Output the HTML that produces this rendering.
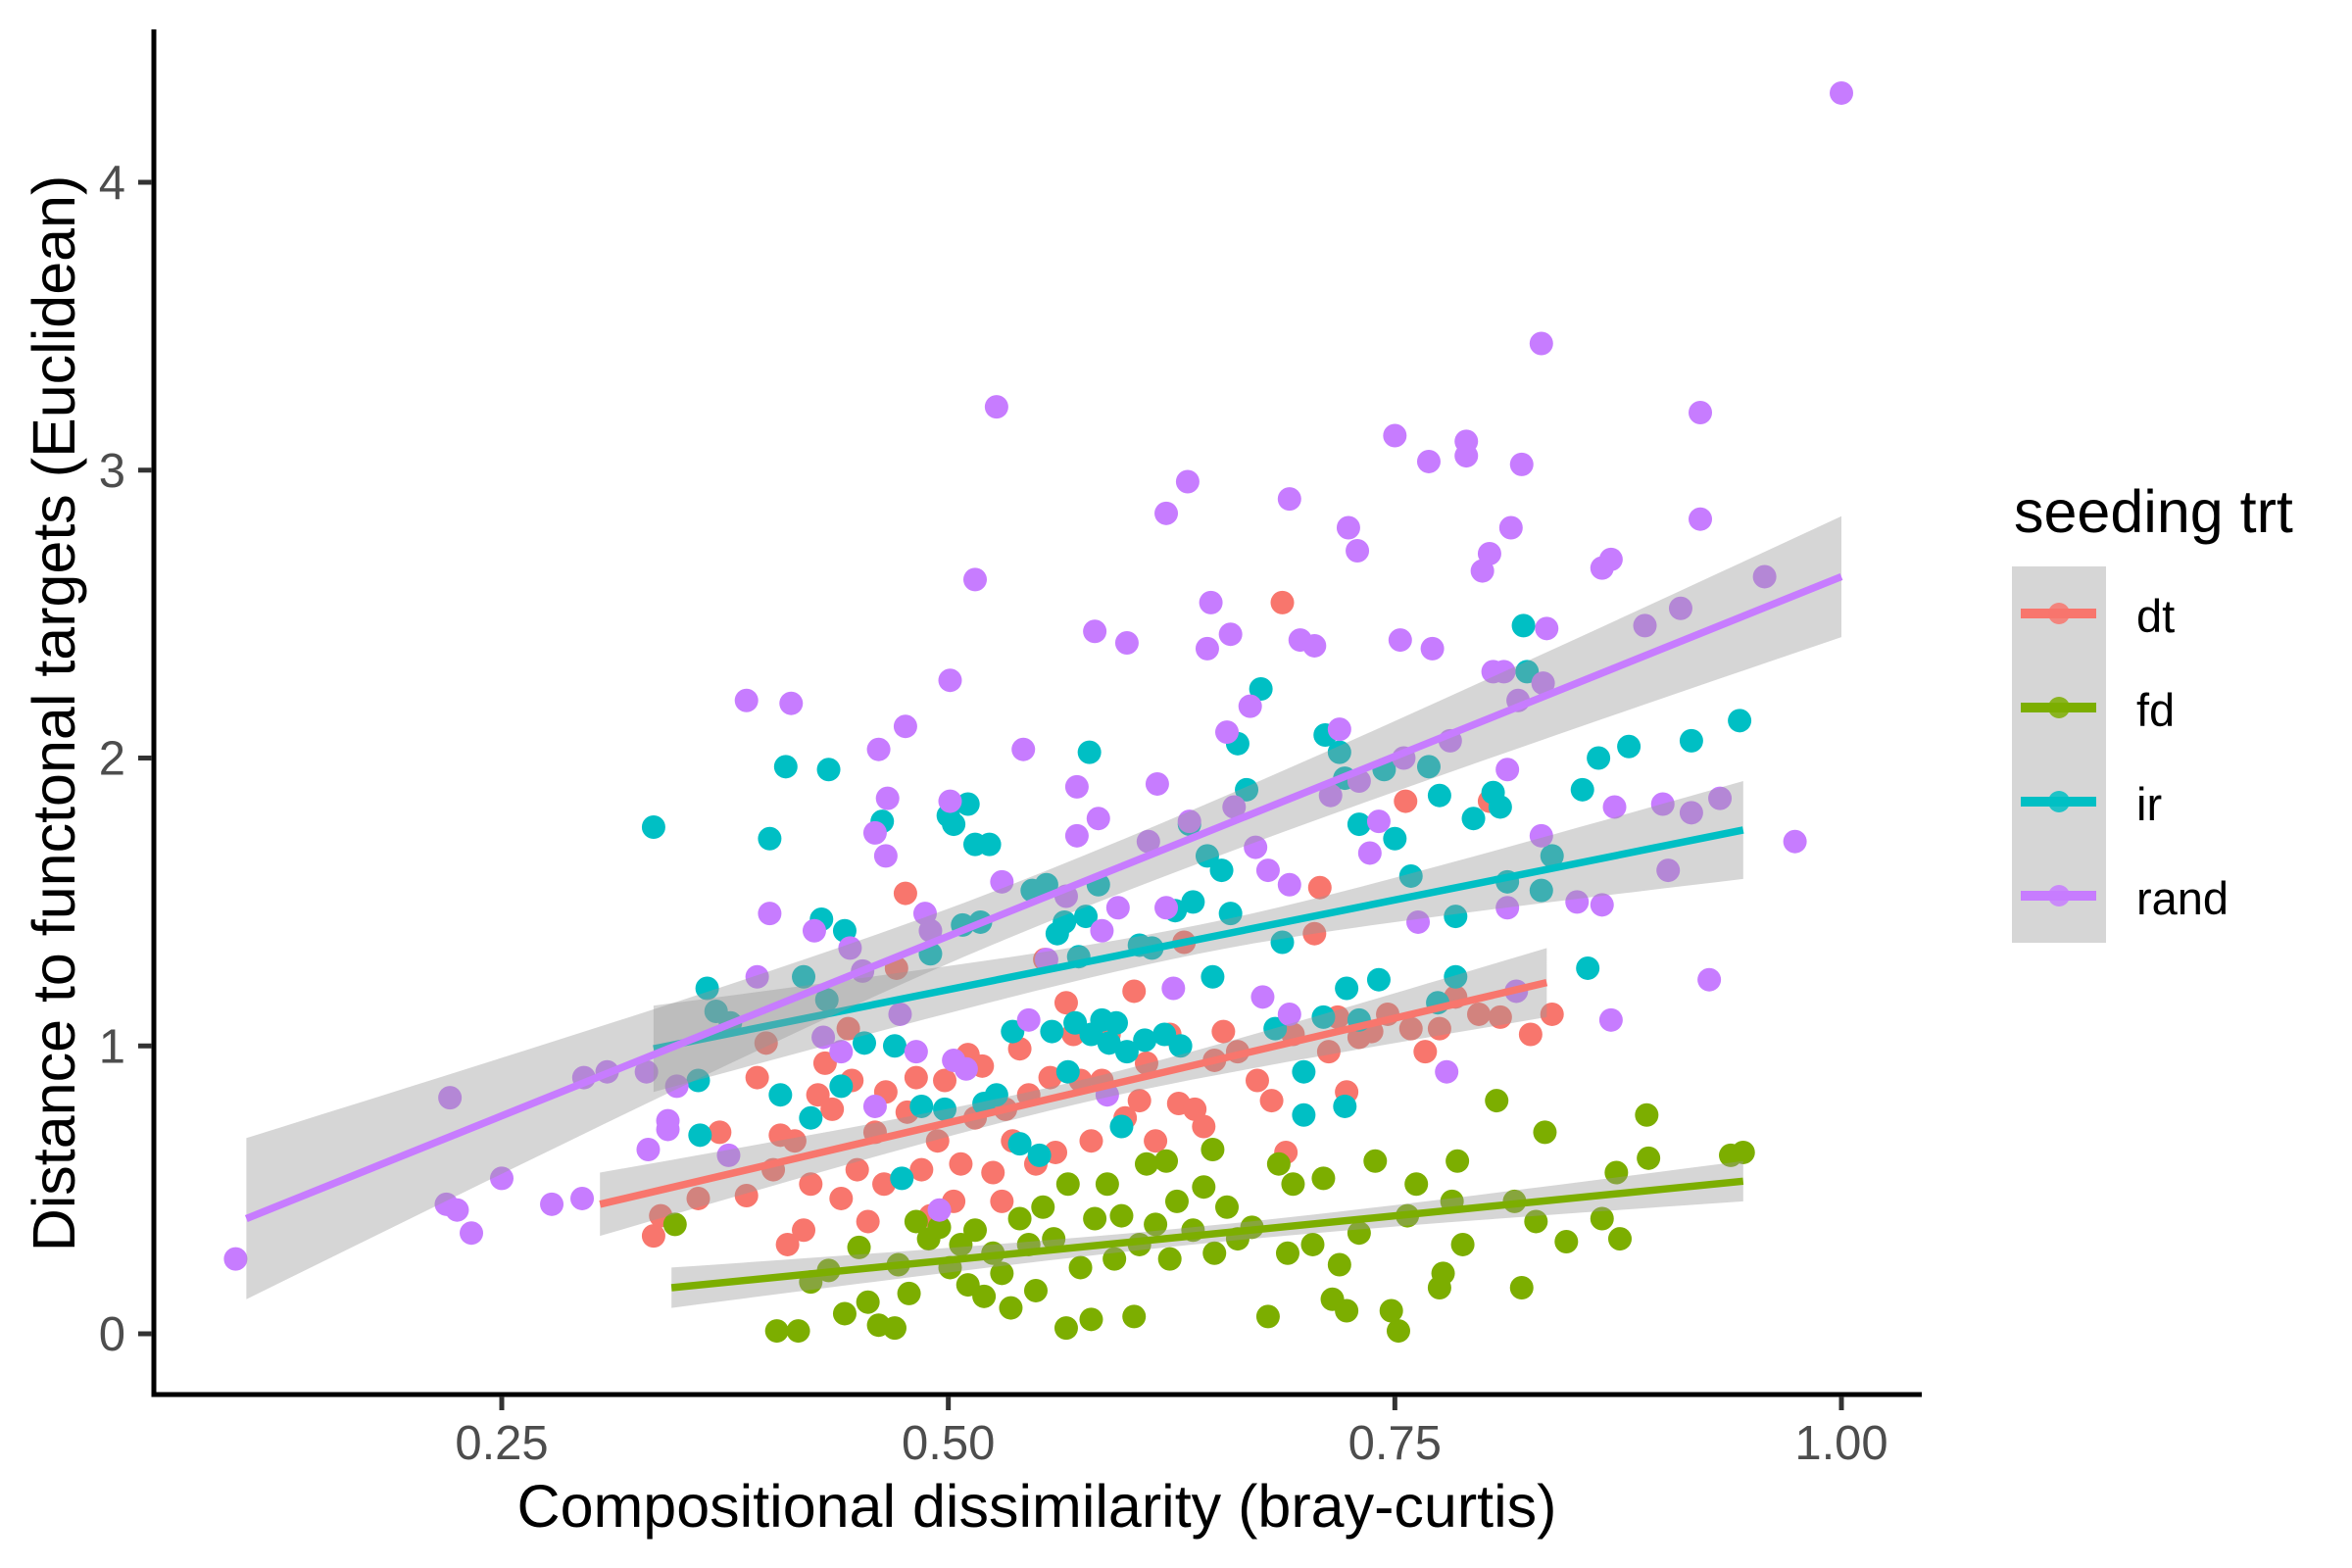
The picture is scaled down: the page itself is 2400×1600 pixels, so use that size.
<!DOCTYPE html>
<html><head><meta charset="utf-8"><style>
html,body{margin:0;padding:0;background:#fff;}
svg{display:block;font-family:"Liberation Sans",Arial,sans-serif;}
</style></head><body>
<svg id="chart" width="2400" height="1600" viewBox="0 0 2400 1600" xmlns="http://www.w3.org/2000/svg">
<g id="points"></g>
<g id="smooth"></g>
<g id="axes"></g>
<text x="1058" y="1558" font-size="61" text-anchor="middle" fill="#000">Compositional dissimilarity (bray-curtis)</text>
<text transform="translate(76,728) rotate(-90)" font-size="61" text-anchor="middle" fill="#000">Distance to functonal targets (Euclidean)</text>
<g id="legend">
<text x="2055" y="543" font-size="61" fill="#000">seeding trt</text>
<rect x="2053" y="578" width="96" height="384" fill="#d6d6d6"/>
</g>
</svg>
<script>
const groups = ['dt','fd','ir','rand'];
const colors = ['#F8766D','#7CAE00','#00BFC4','#C77CFF'];
const xTicks = [0.25,0.50,0.75,1.00];
const xTickLabels = ['0.25','0.50','0.75','1.00'];
const yTicks = [0,1,2,3,4];
const yTickLabels = ['0','1','2','3','4'];

const dtX = [0.335,0.339,0.36,0.372,0.387,0.393,0.398,0.402,0.406,0.41,0.414,0.419,0.423,0.427,0.431,0.435,0.44,0.444,0.446,0.449,0.455,0.459,0.464,0.465,0.471,0.476,0.477,0.482,0.485,0.49,0.494,0.498,0.503,0.507,0.511,0.515,0.519,0.525,0.53,0.532,0.536,0.54,0.545,0.549,0.554,0.557,0.56,0.566,0.57,0.574,0.58,0.586,0.59,0.599,0.604,0.607,0.611,0.616,0.624,0.629,0.632,0.638,0.643,0.649,0.654,0.662,0.673,0.681,0.687,0.689,0.693,0.705,0.708,0.713,0.718,0.723,0.73,0.737,0.746,0.756,0.759,0.767,0.775,0.784,0.797,0.803,0.809,0.826,0.838];
const dtY = [0.34,0.41,0.47,0.70,0.48,0.89,1.01,0.57,0.69,0.31,0.67,0.36,0.52,0.83,0.94,0.78,0.47,1.06,0.88,0.57,0.39,0.70,0.52,0.84,1.27,1.53,0.77,0.89,0.57,0.41,0.67,0.88,0.46,0.59,0.97,0.75,0.93,0.56,0.46,0.78,0.67,0.99,0.83,0.59,1.30,0.89,0.63,1.15,1.04,0.88,0.67,0.88,1.04,0.75,1.19,0.81,0.94,0.67,1.04,0.80,1.36,0.78,0.72,0.95,1.05,0.98,0.88,0.81,2.54,0.63,1.04,1.39,1.55,0.98,1.10,0.84,1.03,1.05,1.11,1.85,1.06,0.98,1.06,1.17,1.11,1.85,1.10,1.04,1.11];
const fdX = [0.347,0.404,0.416,0.423,0.433,0.442,0.45,0.455,0.461,0.47,0.472,0.478,0.482,0.489,0.495,0.501,0.507,0.511,0.515,0.52,0.525,0.53,0.535,0.54,0.545,0.549,0.553,0.559,0.566,0.567,0.574,0.58,0.582,0.589,0.593,0.597,0.604,0.607,0.611,0.616,0.622,0.624,0.628,0.637,0.643,0.648,0.649,0.656,0.662,0.67,0.679,0.685,0.69,0.693,0.704,0.71,0.715,0.719,0.723,0.73,0.739,0.748,0.752,0.757,0.762,0.775,0.777,0.782,0.785,0.788,0.807,0.817,0.821,0.829,0.834,0.846,0.866,0.874,0.876,0.891,0.892,0.938,0.945];
const fdY = [0.38,0.01,0.01,0.18,0.22,0.07,0.30,0.11,0.03,0.02,0.24,0.14,0.39,0.33,0.37,0.23,0.31,0.17,0.36,0.13,0.28,0.21,0.09,0.40,0.31,0.15,0.44,0.33,0.02,0.52,0.23,0.05,0.40,0.52,0.26,0.41,0.06,0.31,0.59,0.38,0.60,0.26,0.46,0.36,0.51,0.64,0.28,0.44,0.33,0.37,0.06,0.59,0.28,0.52,0.31,0.54,0.12,0.24,0.08,0.35,0.60,0.08,0.01,0.41,0.52,0.16,0.21,0.46,0.60,0.31,0.81,0.46,0.16,0.39,0.70,0.32,0.40,0.56,0.33,0.76,0.61,0.62,0.63];
const irX = [0.335,0.36,0.365,0.37,0.361,0.378,0.4,0.406,0.409,0.419,0.423,0.429,0.433,0.432,0.442,0.44,0.453,0.463,0.47,0.474,0.485,0.49,0.498,0.5,0.503,0.508,0.511,0.515,0.518,0.52,0.523,0.527,0.536,0.54,0.547,0.551,0.555,0.558,0.561,0.565,0.567,0.571,0.573,0.577,0.579,0.58,0.584,0.586,0.59,0.594,0.597,0.6,0.607,0.61,0.614,0.621,0.627,0.63,0.635,0.637,0.645,0.648,0.653,0.658,0.662,0.667,0.675,0.683,0.687,0.699,0.699,0.71,0.711,0.719,0.722,0.723,0.722,0.73,0.73,0.741,0.744,0.75,0.759,0.769,0.774,0.775,0.784,0.784,0.794,0.805,0.809,0.813,0.822,0.824,0.832,0.838,0.858,0.855,0.864,0.881,0.916,0.943];
const irY = [1.76,0.88,1.20,1.12,0.69,1.08,1.72,0.83,1.97,1.24,0.75,1.44,1.96,1.16,1.40,0.86,1.01,1.78,1.0,0.54,0.79,1.32,0.78,1.80,1.77,1.42,1.84,1.70,1.43,0.80,1.70,0.83,1.05,0.66,1.54,0.62,1.56,1.05,1.39,1.43,0.91,1.08,1.31,1.45,2.02,1.04,1.56,1.09,1.01,1.08,0.72,0.98,1.35,1.02,1.34,1.04,1.47,1.0,1.77,1.50,1.66,1.24,1.61,1.46,2.05,1.89,2.24,1.06,1.36,0.91,0.76,1.10,2.08,2.02,1.93,1.20,0.79,1.77,1.09,1.23,1.96,1.72,1.59,1.97,1.15,1.87,1.45,1.24,1.79,1.88,1.83,1.57,2.46,2.30,1.54,1.66,1.27,1.89,2.00,2.04,2.06,2.13];
const randX = [0.101,0.221,0.219,0.225,0.233,0.25,0.278,0.295,0.296,0.309,0.331,0.332,0.343,0.343,0.348,0.377,0.387,0.412,0.40,0.393,0.425,0.43,0.445,0.44,0.459,0.461,0.466,0.465,0.476,0.473,0.452,0.459,0.482,0.487,0.49,0.501,0.501,0.515,0.527,0.503,0.51,0.495,0.53,0.542,0.545,0.555,0.566,0.572,0.572,0.582,0.584,0.586,0.589,0.595,0.60,0.612,0.617,0.622,0.622,0.626,0.634,0.635,0.647,0.645,0.658,0.656,0.66,0.669,0.672,0.679,0.676,0.691,0.691,0.697,0.705,0.691,0.714,0.719,0.724,0.729,0.73,0.736,0.741,0.75,0.753,0.755,0.763,0.769,0.771,0.779,0.781,0.79,0.79,0.799,0.803,0.805,0.811,0.813,0.813,0.815,0.819,0.821,0.818,0.832,0.832,0.835,0.833,0.852,0.866,0.871,0.866,0.871,0.873,0.89,0.91,0.90,0.903,0.916,0.921,0.921,0.926,0.932,0.957,0.974,1.0];
const randY = [0.26,0.82,0.45,0.43,0.35,0.54,0.45,0.47,0.89,0.91,0.91,0.64,0.74,0.71,0.86,0.62,2.20,2.19,1.46,1.24,1.40,1.03,1.34,0.98,1.74,2.03,1.86,1.66,2.11,1.11,1.26,0.79,0.98,1.46,1.40,2.27,1.85,2.62,3.22,0.95,0.92,0.43,1.57,2.03,1.09,1.30,1.52,1.73,1.90,2.44,1.79,1.40,0.83,1.48,2.40,1.71,1.91,2.85,1.48,1.20,2.96,1.78,2.54,2.38,2.43,2.09,1.83,2.18,1.69,1.61,1.17,1.56,2.90,2.41,2.39,1.11,1.87,2.10,2.80,2.72,1.92,1.67,1.78,3.12,2.41,2.0,1.43,3.03,2.38,0.91,2.06,3.10,3.05,2.65,2.71,2.30,2.30,1.48,1.96,2.80,2.20,3.02,1.19,3.44,1.73,2.45,2.26,1.50,2.66,2.69,1.49,1.09,1.83,2.46,2.52,1.84,1.61,1.81,3.20,2.83,1.23,1.86,2.63,1.71,4.31];

// smooth fits: x range and fitted endpoint values, SE half-widths at start / centre / end
const fitXStart = [0.305,0.345,0.335,0.107];
const fitXEnd = [0.835,0.945,0.945,1.0];
const fitYStart = [0.45,0.16,0.99,0.40];
const fitYEnd = [1.22,0.53,1.75,2.63];
const seStart = [0.11,0.07,0.15,0.28];
const seMid = [0.04,0.03,0.05,0.09];
const seEnd = [0.12,0.07,0.17,0.21];

const groupX = [dtX,fdX,irX,randX];
const groupY = [dtY,fdY,irY,randY];

const NS = 'http://www.w3.org/2000/svg';
const X0 = 512, XS = 1822.67, Y0 = 1361, YS = 293.75;
function sx(v){ return X0 + (v-0.25)*XS; }
function sy(v){ return Y0 - v*YS; }
function mk(tag, attrs, parent){
  const e = document.createElementNS(NS, tag);
  for (const k in attrs) e.setAttribute(k, attrs[k]);
  parent.appendChild(e);
  return e;
}

const pts = document.getElementById('points');
groups.forEach((g, gi) => {
  const xs = groupX[gi], ys = groupY[gi];
  const n = Math.min(xs.length, ys.length);
  for (let i = 0; i < n; i++) {
    const c = mk('circle', {cx: sx(xs[i]), cy: sy(ys[i]), r: 12, fill: colors[gi]}, pts);
    
    
  }
});

const sm = document.getElementById('smooth');
groups.forEach((g, gi) => {
  const xa = fitXStart[gi], xb = fitXEnd[gi], ya = fitYStart[gi], yb = fitYEnd[gi];
  const xm = (xa + xb) / 2, half = (xb - xa) / 2;
  const h0 = seMid[gi];
  const upper = [], lower = [];
  const N = 40;
  for (let k = 0; k <= N; k++) {
    const x = xa + (xb - xa) * k / N;
    const yv = ya + (yb - ya) * k / N;
    const hend = x < xm ? seStart[gi] : seEnd[gi];
    const c = (hend*hend - h0*h0) / (half*half);
    const h = Math.sqrt(h0*h0 + c*(x-xm)*(x-xm));
    upper.push(sx(x).toFixed(1) + ',' + sy(yv + h).toFixed(1));
    lower.unshift(sx(x).toFixed(1) + ',' + sy(yv - h).toFixed(1));
  }
  const rib = mk('polygon', {points: upper.concat(lower).join(' '), fill: '#999999', 'fill-opacity': 0.4}, sm);
  
  
  const ln = mk('line', {x1: sx(xa), y1: sy(ya), x2: sx(xb), y2: sy(yb), stroke: colors[gi], 'stroke-width': 7.5}, sm);
  
  
});

const ax = document.getElementById('axes');
const yl = mk('line', {x1: 157, y1: 30, x2: 157, y2: 1425.5, stroke: '#000', 'stroke-width': 5}, ax);


const xl = mk('line', {x1: 154.5, y1: 1423, x2: 1961, y2: 1423, stroke: '#000', 'stroke-width': 5}, ax);


xTicks.forEach((v, i) => {
  const t = mk('line', {x1: sx(v), y1: 1425, x2: sx(v), y2: 1439, stroke: '#333', 'stroke-width': 5}, ax);
  
  
  const l = mk('text', {x: sx(v), y: 1489, 'font-size': 49, 'text-anchor': 'middle', fill: '#4d4d4d'}, ax);
  l.textContent = xTickLabels[i];
  
  
});
yTicks.forEach((v, i) => {
  const t = mk('line', {x1: 141, y1: sy(v), x2: 155, y2: sy(v), stroke: '#333', 'stroke-width': 5}, ax);
  
  
  const l = mk('text', {x: 128, y: sy(v) + 17, 'font-size': 49, 'text-anchor': 'end', fill: '#4d4d4d'}, ax);
  l.textContent = yTickLabels[i];
  
  
});

const lg = document.getElementById('legend');
groups.forEach((g, gi) => {
  const cy = 626 + gi * 96;
  const ln = mk('line', {x1: 2062, y1: cy, x2: 2139, y2: cy, stroke: colors[gi], 'stroke-width': 10}, lg);
  
  
  const c = mk('circle', {cx: 2101, cy: cy, r: 11, fill: colors[gi], 'fill-opacity': 0.85}, lg);
  
  
  const t = mk('text', {x: 2180, y: cy + 19, 'font-size': 47, fill: '#000'}, lg);
  t.textContent = g;
  
  
});
</script>
</body></html>
